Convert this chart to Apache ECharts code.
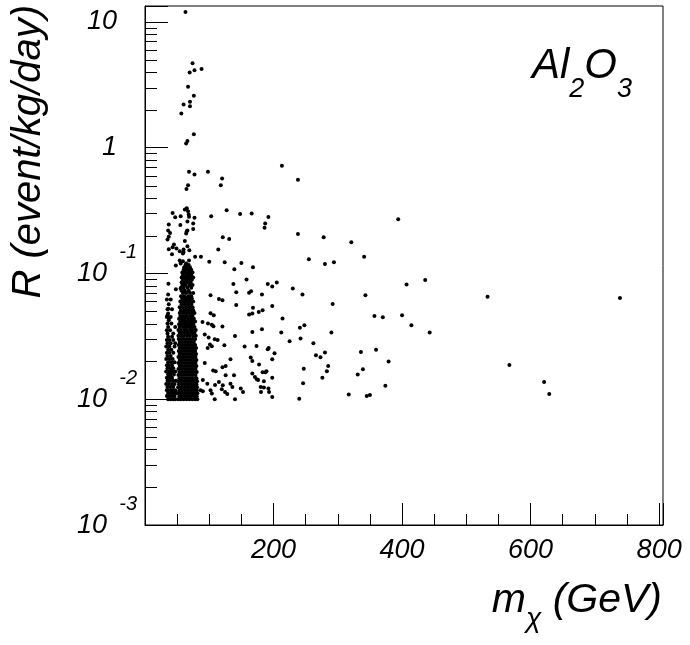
<!DOCTYPE html>
<html><head><meta charset="utf-8">
<script src="https://cdn.jsdelivr.net/npm/echarts@6/dist/echarts.min.js"></script>
<style>html,body{margin:0;padding:0;background:#fff}#c{width:690px;height:645px}</style>
</head><body><div id="c"></div>
<script>
// ---- data (x = m_chi in GeV, y = R in event/kg/day) ----
const xTickLabels = [200, 400, 600, 800];
const yDecades = [0.001, 0.01, 0.1, 1, 10];
const yMinorTicks = [0.002,0.003,0.004,0.005,0.006,0.007,0.008,0.009,
  0.02,0.03,0.04,0.05,0.06,0.07,0.08,0.09,
  0.2,0.3,0.4,0.5,0.6,0.7,0.8,0.9,
  2,3,4,5,6,7,8,9];

const sparsePoints = [
  [63,12.0],[74,4.69],[77,4.14],[88,4.22],[69.5,3.97],[67,3.05],[76,2.59],[70,2.32],[70,2.14],[60,2.21],[56.5,1.87],[76,1.28],[66,1.13],[64,1.08],
  [68.5,0.643],[77,0.614],[98,0.643],[120,0.57],[118,0.504],[67,0.504],[64.5,0.469],[213,0.718],[238,0.556],
  [127,0.319],[148,0.297],[166,0.300],[192,0.281],[187,0.25],[186,0.231],
  [62,0.323],[65,0.33],[67,0.313],[68,0.295],[43,0.303],[47,0.28],[55.5,0.285],[77,0.277],[103,0.285],[68.5,0.283],[66,0.259],[75,0.25],[37,0.245],[55,0.243],[75,0.226],[65,0.217],[66,0.22],[64,0.208],[39,0.21],[37,0.196],[35,0.186],[36,0.22],[121,0.194],[131,0.188],[62,0.181],[45,0.170],[49,0.158],[43,0.162],[66,0.165],[69,0.153],[60,0.155],[60,0.148],[59,0.144],[37,0.156],[114,0.155],[42,0.142],[54,0.15],[78,0.136],[87,0.136],[54,0.127],[100,0.124],[124,0.123],[150,0.121],[64,0.12],[48,0.116],[55.5,0.12],[59,0.125],[68.5,0.127],[168,0.112],[139,0.108],
  [238,0.206],[278,0.194],[321,0.177],[394,0.270],[341,0.136],[255,0.13],[280,0.119],[294,0.123],
  [436,0.0889],[407,0.0817],[191,0.0826],[198,0.0787],[205,0.0847],[230,0.076],[182,0.0681],[245,0.0681],[343,0.0672],[292,0.0573],[198,0.0552],[177,0.0495],[214,0.0439],[357,0.046],[370,0.0449],[400,0.0466],[414.5,0.0388],[443,0.034],[248,0.0388],[241,0.037],[182,0.036],[212,0.034],[290,0.034],[242,0.0304],[225,0.0289],[262,0.0279],[173.5,0.0265],[191,0.025],[192.5,0.0256],[201.5,0.0232],[280,0.0235],[266,0.0224],[273,0.0216],[336,0.0238],[359.5,0.0247],[198,0.0208],[379,0.02],[177.5,0.0189],[285,0.0184],[247,0.0175],[339,0.0173],[189,0.0167],[187.5,0.0164],[283,0.0167],[331,0.0157],[276,0.0148],[198,0.0148],[174,0.0144],[176,0.0142],[246,0.0134],[374,0.0128],[185,0.0124],[192,0.0122],[180.5,0.0114],[193,0.0114],[317,0.0109],[345,0.0106],[350,0.0108],[198,0.0104],[240,0.0101],
  [533,0.0652],[739,0.0637],[567,0.0187],[621,0.0137],[629,0.011],
  [158,0.0895],[137.5,0.0826],[142,0.071],[162,0.0704],[165,0.0723],[142,0.0562],[167,0.0481],[162,0.0472],[102,0.0483],[107,0.0466],[102,0.0672],[115,0.0628],[120.5,0.0614],[89.5,0.0412],[168,0.0533],[183,0.051],[98,0.04],[104,0.0391],[106.5,0.038],[120.5,0.0378],[93,0.0327],[99,0.031],[140,0.0319],[167,0.0343],[108.5,0.030],[113,0.0296],[123.5,0.0269],[155,0.0263],[101,0.0272],[104,0.0264],[97.5,0.0255],[164.5,0.0215],[167,0.0201],[133,0.0208],[93,0.0194],[120.5,0.018],[125.5,0.0184],[106,0.0169],[110,0.0167],[125.5,0.0155],[138.5,0.0155],[167,0.016],[171,0.015],[183,0.0164],[90,0.0142],[97,0.0133],[109,0.013],[115,0.0137],[121,0.0129],[119.5,0.012],[133,0.0133],[136,0.0125],[149,0.0122],[152.5,0.0114],[102,0.0118],[104,0.0111],[86.5,0.0118],[90,0.0116],[108.5,0.0100],[124.5,0.0114],[128,0.011],[140,0.0100],[180,0.0125],[185,0.0139],
  [36.5,0.083],[48,0.0749],[55.5,0.076],[36.3,0.0525],[35,0.0465],[37,0.0438]
];

// dense core of the main column (rows of equal R)
const coreR = [0.0100,0.01057,0.01117,0.0118,0.01247,0.01318,0.01393,0.01472,0.01556,0.01644,0.01738,0.01837,0.01941,0.02051,0.02168,0.02291,0.02421,0.02559,0.02704,0.02858,0.0302];
const coreX = [
  [51.5,55.5,60,64.5,69,73.5,78,81.5],
  [53.5,58,62.5,67,71.5,76,80.5],
  [51,56,60.5,65,69.5,74,78.5,81.5],
  [53.5,58,62.5,67,71.5,76,80.5],
  [51.5,56,60.5,65,69.5,74,78.5,81],
  [53,58,62.5,67,71.5,76,80],
  [51.5,56,60.5,65,69.5,74,78.5,81],
  [53.5,58,62.5,67,71.5,76,80],
  [52,56,60.5,65,69.5,74,78.5],
  [53.5,58,62.5,67,71.5,76,80.5],
  [52,56,60.5,65,69.5,74,78.5],
  [54,58,62.5,67,71.5,76,80],
  [52,56,60.5,65,69.5,74,78.5],
  [54,58,62.5,67,71.5,76,80],
  [52,56,60.5,65,69.5,74,78.5],
  [54,58,62.5,67,71.5,76,79.5],
  [52.5,56,60.5,65,69.5,74,78],
  [54,58,62.5,67,71.5,76,79.5],
  [52.5,56.5,60.5,65,69.5,74,78],
  [54,58,62.5,67,71.5,76],
  [52.5,56.5,60.5,65,69.5,74,78]
];

// upper, looser part of the main column
const upperR = [0.0320,0.0338,0.0356,0.0375,0.0395,0.0415,0.0437,0.046,0.0485,0.051,0.054,0.057,0.060,0.063,0.066,0.070,0.073,0.077,0.081,0.085,0.089,0.093,0.097,0.102,0.107,0.112,0.117];
const upperX = [
  [52,57,61,66,70,75,79],
  [54,58,63,67,72,77],
  [52,56,61,65,70,74,79],
  [54,59,63,68,72,77],
  [53,57,62,66,71,75],
  [55,60,64,69,74,78],
  [53,58,62,67,72,76],
  [55,60,65,70,74],
  [54,58,63,68,73,77],
  [56,61,66,71,75],
  [54,59,64,69,74],
  [57,62,67,72],
  [55,60,65,70,75],
  [58,63,68,73],
  [56,61,67,72],
  [59,64,70,75],
  [57,62,68],
  [56,60,66,72],
  [58,63,69,74],
  [57,61,66,71],
  [59,64,68,73],
  [57,62,66,70,75],
  [59,64,68,72],
  [58,62,66,70,74],
  [60,64,68,72],
  [61,66,70],
  [63,68]
];

// left column (lower masses)
const leftR = [0.0100,0.0106,0.0112,0.0118,0.0125,0.0132,0.0140,0.0148,0.0157,0.0166,0.0176,0.0186,0.0197,0.0209,0.0221,0.0234,0.0248,0.0263,0.0279,0.0296,0.0314,0.0333,0.0353,0.0375,0.040,0.0425,0.045,0.048,0.052,0.057,0.062,0.068];
const leftX = [
  [36,40,44,47],[34,38,42,46],[36,41,45,48.5],[34,38,43,47],[35,40,44],[33,37,42,46],[35,39,44,48],[34,38,42],
  [36,40,45],[33,38,43,47],[35,40,44],[34,37,42],[36,41,46],[33,38,43],[35,40],[34,38,44],
  [36,41],[33,38,46],[35,40,47],[34,38,44],[36,42],[35,44],[34,39],[36,47],
  [35,41],[37],[34,40],[36],[35,42],[37],[34,40],[36]
];

function rowsToPoints(rs, xs) {
  const out = [];
  rs.forEach((r, i) => xs[i].forEach(x => out.push([x, r])));
  return out;
}
const allPoints = sparsePoints
  .concat(rowsToPoints(coreR, coreX))
  .concat(rowsToPoints(upperR, upperX))
  .concat(rowsToPoints(leftR, leftX));

// ---- chart ----
const FONT = '"Liberation Sans", Arial, Helvetica, sans-serif';
const mctx = document.createElement('canvas').getContext('2d');
function tw(text, size) { mctx.font = 'italic ' + size + 'px ' + FONT; return mctx.measureText(text).width; }

const chart = echarts.init(document.getElementById('c'), null, {renderer: 'canvas'});

function decadeExp(v) {
  const l = Math.log10(v);
  const e = Math.round(l);
  if (Math.abs(l - e) > 1e-6 || e < -3 || e > 1) return null;
  return e;
}
function yBaseLabel(v) {
  const e = decadeExp(v);
  if (e === null) return '';
  if (e === 1) return '{b|10}{sp|}';
  if (e === 0) return '{b|1}{sp|}';
  return '{b|10}{sp2|}';
}

const labelFont = {fontFamily: FONT, fontStyle: 'italic', color: '#000'};

// title pieces laid out with measured widths
const titleSize = 41, subSize = 28;
const gevText = ' (GeV)';
const gevX = 662 - tw(gevText, titleSize);
const chiX = gevX - tw('χ', subSize);
const mX = chiX - tw('m', titleSize);
const alSize = 42, alSub = 27;
const alX = 532;
const twoX = alX + tw('Al', alSize);
const oX = twoX + tw('2', alSub);
const threeX = oX + tw('O', alSize);

function txt(x, y, s, size, align) {
  return {type: 'text', x: x, y: y, silent: true,
    style: {text: s, font: 'italic ' + size + 'px ' + FONT, fill: '#000', align: align || 'left', verticalAlign: 'middle'}};
}

const baseGraphics = [
  {type: 'text', x: 29, y: 5, rotation: Math.PI / 2, silent: true,
   style: {text: 'R (event/kg/day)', font: 'italic 40px ' + FONT, fill: '#000', align: 'right', verticalAlign: 'middle'}},
  txt(mX, 601, 'm', titleSize),
  txt(chiX, 619, 'χ', subSize),
  txt(gevX, 601, gevText, titleSize),
  txt(alX, 66, 'Al', alSize),
  txt(twoX, 89, '2', alSub),
  txt(oX, 66, 'O', alSize),
  txt(threeX, 89, '3', alSub)
];

chart.setOption({
  animation: false,
  backgroundColor: '#fff',
  grid: {left: 145, right: 27, top: 6, bottom: 120, show: true, borderColor: '#000', borderWidth: 1, containLabel: false, outerBoundsMode: 'none'},
  xAxis: [
    {type: 'value', min: 0, max: 806, interval: 50, position: 'bottom',
     axisLine: {show: true, onZero: false, lineStyle: {color: '#000', width: 1}},
     axisTick: {show: true, inside: true, length: 11, lineStyle: {color: '#000'}},
     axisLabel: {show: false}, splitLine: {show: false}},
    {type: 'value', min: 0, max: 806, interval: 200, position: 'bottom',
     axisLine: {show: false, onZero: false},
     axisTick: {show: true, inside: true, length: 22, lineStyle: {color: '#000'}},
     axisLabel: Object.assign({show: true, margin: 12, fontSize: 27,
       formatter: v => (xTickLabels.indexOf(Math.round(v)) >= 0 && Math.abs(v - Math.round(v)) < 1e-6) ? String(Math.round(v)) : ''}, labelFont),
     splitLine: {show: false}}
  ],
  yAxis: [
    {type: 'log', logBase: 10, min: yDecades[0], max: 13.4, position: 'left',
     axisLine: {show: true, onZero: false, lineStyle: {color: '#000', width: 1}},
     axisTick: {show: true, inside: true, length: 23, lineStyle: {color: '#000'}},
     minorTick: {show: false}, splitLine: {show: false},
     axisLabel: {show: true, margin: 8, formatter: yBaseLabel,
       rich: {
         b: Object.assign({fontSize: 27, lineHeight: 27}, labelFont),
         sp: {width: 20, height: 10},
         sp2: {width: 30, height: 10}
       }}}
  ],
  graphic: baseGraphics,
  series: [
    {type: 'scatter', xAxisIndex: 0, yAxisIndex: 0, data: allPoints, symbol: 'circle', symbolSize: 4,
     itemStyle: {color: '#000', opacity: 1}, silent: true, large: false},
    {type: 'custom', xAxisIndex: 0, yAxisIndex: 0, silent: true, clip: false,
     data: yMinorTicks.map(v => [0, v]),
     renderItem: (params, api) => {
       const p = api.coord([0, api.value(1)]);
       const y = Math.round(p[1]) + 0.5;
       return {type: 'line', shape: {x1: p[0], y1: y, x2: p[0] + 12, y2: y}, style: {stroke: '#000', lineWidth: 1}};
     }}
  ]
});

// superscript exponents of the decade labels, placed through the y axis scale
const expGraphics = yDecades.filter(v => v < 1).map(v => {
  const py = chart.convertToPixel({yAxisIndex: 0}, v);
  return txt(137, py - 21, String(Math.round(Math.log10(v))), 20, 'right');
});
chart.setOption({graphic: baseGraphics.concat(expGraphics)});
</script>
</body></html>
